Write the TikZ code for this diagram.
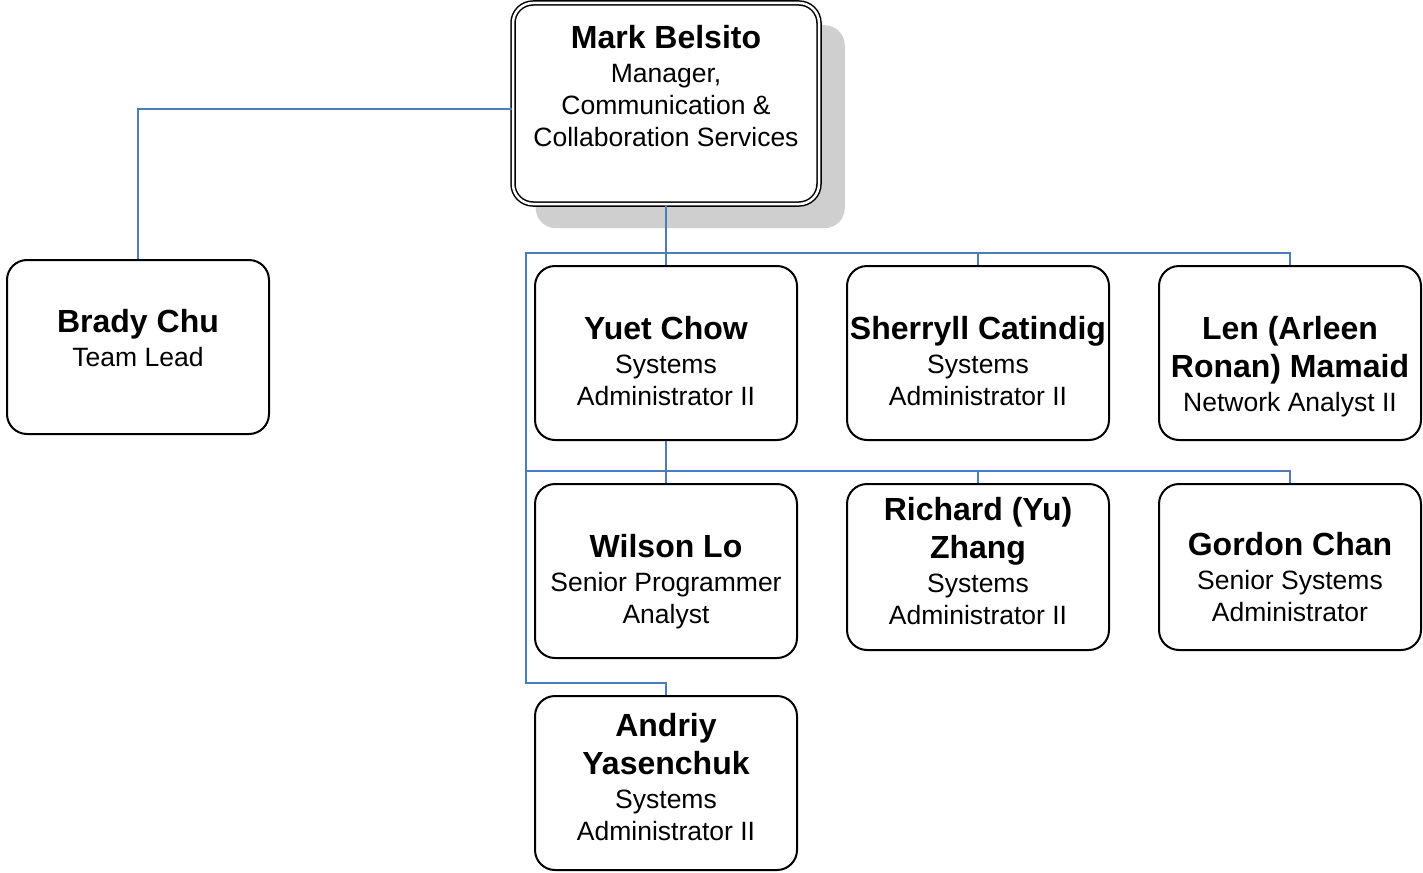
\documentclass[tikz,border=0pt]{standalone}
\usepackage{fontspec}
\setmainfont{Liberation Sans}
\usetikzlibrary{shadows}
\definecolor{linkblue}{HTML}{4A7EBB}
\newcommand{\pname}[1]{{\fontsize{32}{38}\selectfont\bfseries #1}}
\begin{document}
\begin{tikzpicture}[x=1pt, y=-1pt,
            every node/.style = {draw, rounded corners=20pt, line width=2pt, align=center,
                minimum width=262pt, minimum height=174pt, inner sep=2pt,
                font=\fontsize{26.5}{32}\selectfont},
            short/.style = {minimum height=166pt},
            textbase/.style = {text height=#1, text depth=0pt},
            link/.style = {draw=linkblue, line width=2pt}]
            \useasboundingbox (0,0) rectangle (1423,872);
            \node[double, double distance=2.5pt, line width=1.5pt, fill=white,
                minimum width=306pt, minimum height=201pt, textbase=86pt,
                drop shadow={shadow xshift=24pt, shadow yshift=-23pt, shadow scale=1.01,
                    fill=black!19, opacity=1}]
                (mark) at (666,103.5) {\pname{Mark Belsito}\\[2pt]Manager,\\Communication \&\\Collaboration Services};
            \node[textbase=39pt] (brady) at (138,347) {\pname{Brady Chu}\\[2pt]Team Lead};
            \node[textbase=105pt] (yuet) at (666,353) {\pname{Yuet Chow}\\[2pt]Systems\\Administrator II};
            \node[textbase=105pt] (sherryll) at (978,353) {\pname{Sherryll Catindig}\\[2pt]Systems\\Administrator II};
            \node[textbase=117pt] (len) at (1290,353) {\pname{Len (Arleen}\\[6pt]\pname{Ronan) Mamaid}\\[2pt]Network Analyst II};
            \node[textbase=105pt] (wilson) at (666,571) {\pname{Wilson Lo}\\[2pt]Senior Programmer\\Analyst};
            \node[short, textbase=115pt] (richard) at (978,567) {\pname{Richard (Yu)}\\[6pt]\pname{Zhang}\\[2pt]Systems\\Administrator II};
            \node[short, textbase=109pt] (gordon) at (1290,567) {\pname{Gordon Chan}\\[2pt]Senior Systems\\Administrator};
            \node[textbase=115pt] (andriy) at (666,783) {\pname{Andriy}\\[6pt]\pname{Yasenchuk}\\[2pt]Systems\\Administrator II};
            \coordinate (bus1) at (526,253);
            \coordinate (bus2) at (526,471);
            \coordinate (bus3) at (526,683);
            \draw[link] ([yshift=-6pt]mark.west) -| (brady.north);
            \draw[link] (mark.south) |- (bus1) -- (bus3) -| (andriy.north);
            \draw[link] (bus1) -| (len.north);
            \foreach \n in {yuet,sherryll}
                \draw[link] (\n.north) -- (\n.north |- bus1);
            \draw[link] (yuet.south) |- (bus2) -| (gordon.north);
            \foreach \n in {wilson,richard}
                \draw[link] (\n.north) -- (\n.north |- bus2);
        \end{tikzpicture}
\end{document}
